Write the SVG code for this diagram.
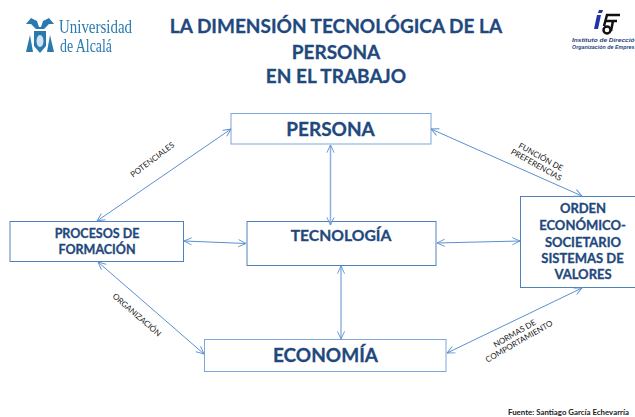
<svg xmlns="http://www.w3.org/2000/svg" width="635" height="417" viewBox="0 0 635 417">
<style>
text{font-family:"Lato","Open Sans","Liberation Sans",sans-serif}
.t{font-weight:700;fill:#1f497d;stroke:#1f497d;stroke-width:.3;text-anchor:middle}
.box{fill:#fff;stroke:#4f81bd;stroke-width:1}
.lite{stroke:#7fa6dc}
.lb{font-size:8px;fill:#222;text-anchor:middle}
.c{stroke:#5b8fd0;stroke-width:1;fill:none;marker-start:url(#a);marker-end:url(#a)}
.v{stroke:#8db0e0;stroke-width:1.500}
.uah{font-family:"Liberation Serif",serif;fill:#2a7ab0;font-size:18px}
.logo{fill:#2a7ab0}
.ide{font-family:"Liberation Sans",sans-serif;font-size:5.300px;font-weight:700;font-style:italic;fill:#1f3f7a}
</style>
<defs>
<marker id="a" viewBox="0 0 10 10" refX="9.500" refY="5" markerWidth="9" markerHeight="9" orient="auto-start-reverse" markerUnits="userSpaceOnUse">
<path d="M1 1L9.500 5L1 9" fill="none" stroke="#5b8fd0" stroke-width="1"/>
</marker>
<filter id="soft" x="-5%" y="-5%" width="110%" height="110%"><feGaussianBlur stdDeviation=".35"/></filter>
</defs>
<rect width="635" height="417" fill="#fff"/>
<g id="logo-uah" filter="url(#soft)">
<path class="logo" d="M26 24L31 18L37 21L39 27L41 27L43 21L49 18L54 24L49 24L44 29L36 29L31 24Z"/>
<path class="logo" d="M34 31L46 31L46 46L40 53L34 46Z"/>
<ellipse cx="40" cy="41" rx="3.500" ry="6" fill="#cfe3f0"/>
<path class="logo" d="M26 52L30 35L33 52ZM47 52L50 35L54 52Z"/>
<text class="uah" x="59" y="33" textLength="73" lengthAdjust="spacingAndGlyphs">Universidad</text>
<text class="uah" x="60" y="52" textLength="52" lengthAdjust="spacingAndGlyphs">de Alcalá</text>
</g>
<g id="title">
<text class="t" font-size="19" x="336" y="33">LA DIMENSIÓN TECNOLÓGICA DE LA</text>
<text class="t" font-size="19" x="336" y="59">PERSONA</text>
<text class="t" font-size="19" x="336" y="83">EN EL TRABAJO</text>
</g>
<g id="logo-ide">
<path d="M599 10L603 10L602 13L598 13ZM597 15L601 15L598 29L594 29Z" fill="#2233aa"/>
<path d="M604 26L607 15L620 15M606 21L617 21M613 21L611 31" fill="none" stroke="#111" stroke-width="2.500"/>
<circle cx="607" cy="30" r="3.500" fill="none" stroke="#111" stroke-width="2.500"/>
<text class="ide" x="572" y="41.500" textLength="62.500" lengthAdjust="spacingAndGlyphs">Instituto de Direcció</text>
<text class="ide" x="572" y="48.500" textLength="62.500" lengthAdjust="spacingAndGlyphs">Organización de Empres</text>
</g>
<g id="persona"><rect class="box lite" x="231" y="113.500" width="200" height="30.500"/><text class="t" font-size="19" x="330.500" y="136">PERSONA</text></g>
<g id="tecnologia"><rect class="box" stroke="#3f6a9e" x="247" y="221.500" width="189" height="44"/><text class="t" font-size="15.700" x="341" y="241">TECNOLOGÍA</text></g>
<g id="procesos"><rect class="box" x="10" y="221.500" width="173.500" height="40"/><text class="t" font-size="12.500" x="97" y="238">PROCESOS DE</text><text class="t" font-size="12.500" x="97" y="254">FORMACIÓN</text></g>
<g id="orden"><rect class="box" x="520.500" y="196.500" width="120" height="91"/>
<text class="t" font-size="13" x="583" y="213">ORDEN</text><text class="t" font-size="13" x="582.500" y="230">ECONÓMICO-</text><text class="t" font-size="13" x="583" y="246.500">SOCIETARIO</text><text class="t" font-size="13" x="582.500" y="263">SISTEMAS DE</text><text class="t" font-size="13" x="583" y="279">VALORES</text></g>
<g id="economia"><rect class="box lite" x="204.500" y="339.500" width="241.500" height="32"/><text class="t" font-size="19" x="325.500" y="362">ECONOMÍA</text></g>
<g id="connectors">
<path class="c" d="M231 129L97 221"/>
<path class="c" d="M431 129L582 196"/>
<path class="c" d="M582 288L447 353"/>
<path class="c" d="M98 262L204 354"/>
<path class="c" d="M184 241L246 243.500"/>
<path class="c" d="M437 243L520 241"/>
<path class="c v" d="M330.500 145L330.500 225"/>
<path class="c" d="M341 266L341 339"/>
</g>
<g id="labels">
<text class="lb" transform="translate(154 162) rotate(-37)">POTENCIALES</text>
<text class="lb" transform="translate(538 162) rotate(29)"><tspan x="0" y="-3">FUNCIÓN DE</tspan><tspan x="0" y="6">PREFERENCIAS</tspan></text>
<text class="lb" transform="translate(135 317) rotate(41)">ORGANIZACIÓN</text>
<text class="lb" transform="translate(517.500 338.500) rotate(-30)"><tspan x="0" y="-3">NORMAS DE</tspan><tspan x="0" y="6">COMPORTAMIENTO</tspan></text>
<text x="508" y="415" font-size="7.800" font-weight="700" fill="#222" textLength="121" lengthAdjust="spacingAndGlyphs">Fuente: Santiago García Echevarría</text>
</g>
</svg>
